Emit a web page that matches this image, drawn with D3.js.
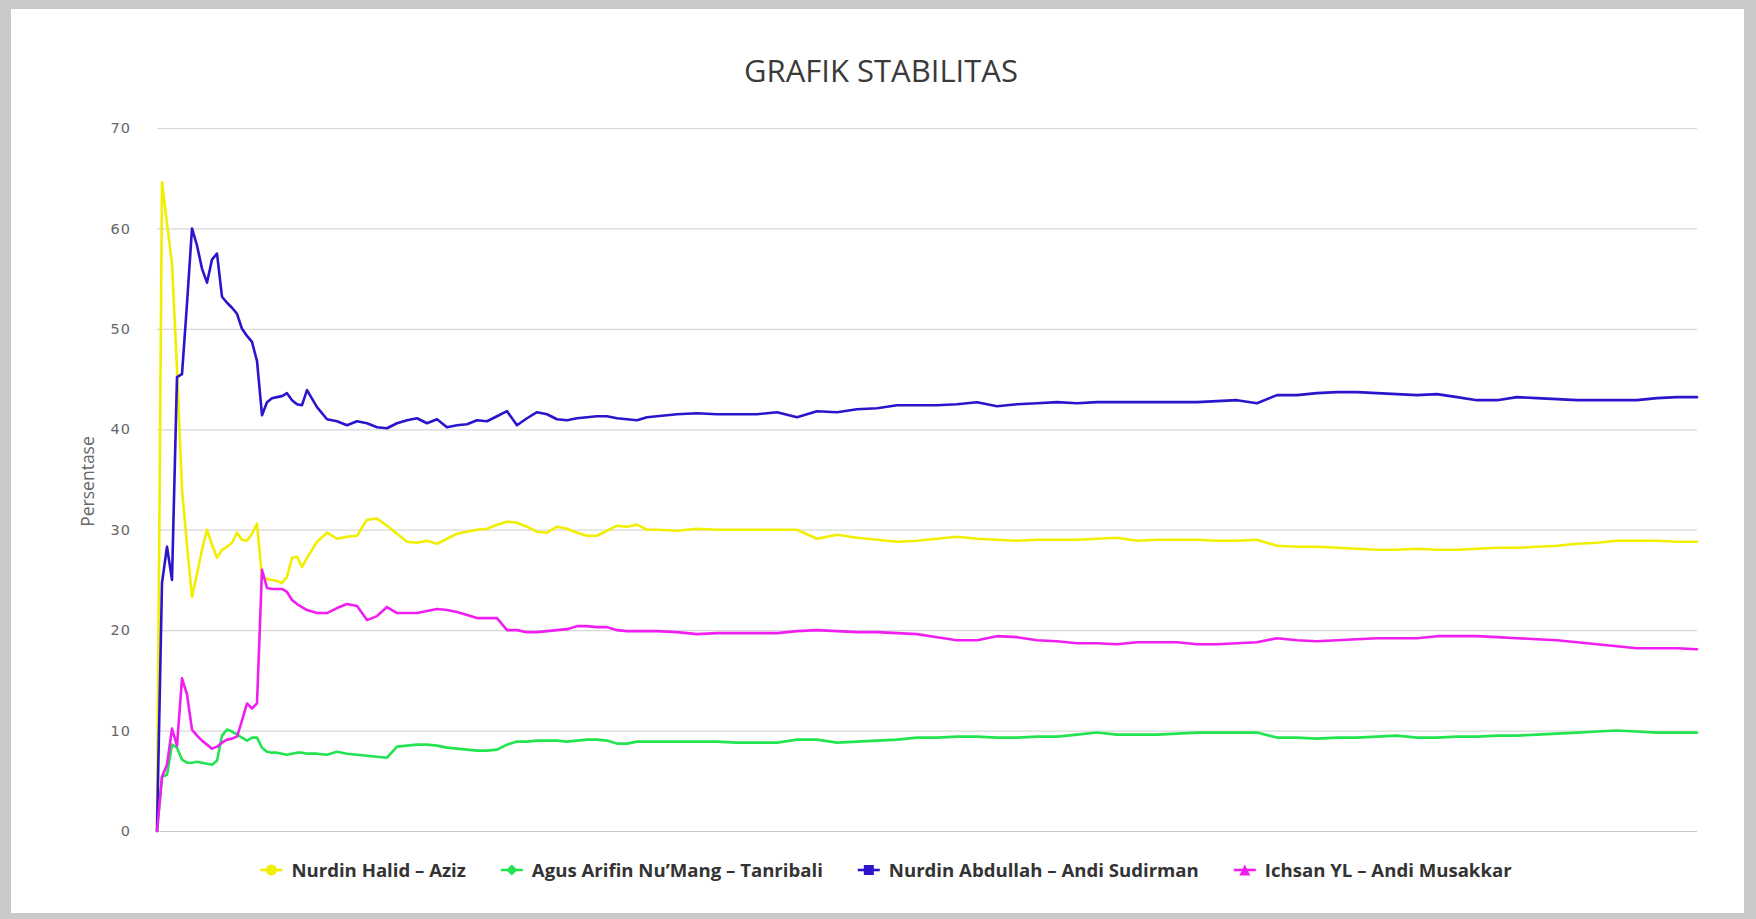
<!DOCTYPE html>
<html>
<head>
<meta charset="utf-8">
<script src="https://cdn.jsdelivr.net/npm/d3@7"></script>
<style>
  html, body { margin: 0; padding: 0; background: #c9c9c9; }
  svg { display: block; }
</style>
</head>
<body>
<div id="chart"></div>
<script>
// sample number of each data update (x categories, no labels shown)
var sampleIdx = [0,1,2,3,4,5,6,7,8,9,10,11,12,13,14,15,16,17,18,19,20,21,22,23,24,25,26,27,28,29,30,
  32,34,36,38,40,42,44,46,48,50,52,54,56,58,60,62,64,66,68,70,72,74,76,78,80,82,84,86,88,90,92,94,96,98,100,
  104,108,112,116,120,124,128,132,136,140,144,148,152,156,160,164,168,172,176,180,184,188,192,196,200,204,208,212,216,220,
  224,228,232,236,240,244,248,252,256,260,264,268,272,276,280,284,288,292,296,300,304,308];

var nurdinHalid = [0,64.6,60.5,56.5,46.0,34.0,28.5,23.3,25.6,28.0,30.0,28.5,27.2,28.0,28.3,28.7,29.7,29.0,28.9,29.6,30.6,25.3,25.1,25.0,24.9,24.7,25.3,27.2,27.3,26.3,27.2,
  28.8,29.7,29.1,29.3,29.4,31.0,31.1,30.4,29.6,28.8,28.7,28.9,28.6,29.1,29.6,29.8,30.0,30.1,30.5,30.8,30.7,30.3,29.8,29.7,30.3,30.1,29.7,29.4,29.4,29.9,30.4,30.3,30.5,30.0,30.0,
  29.9,30.1,30.0,30.0,30.0,30.0,30.0,29.1,29.5,29.2,29.0,28.8,28.9,29.1,29.3,29.1,29.0,28.9,29.0,29.0,29.0,29.1,29.2,28.9,29.0,29.0,29.0,28.9,28.9,29.0,
  28.4,28.3,28.3,28.2,28.1,28.0,28.0,28.1,28.0,28.0,28.1,28.2,28.2,28.3,28.4,28.6,28.7,28.9,28.9,28.9,28.8,28.8];

var agusArifin = [0,5.4,5.6,8.6,8.3,7.1,6.8,6.8,6.9,6.8,6.7,6.6,7.0,9.5,10.1,9.9,9.6,9.3,9.0,9.3,9.3,8.3,7.9,7.8,7.8,7.7,7.6,7.7,7.8,7.8,7.7,
  7.7,7.6,7.9,7.7,7.6,7.5,7.4,7.3,8.4,8.5,8.6,8.6,8.5,8.3,8.2,8.1,8.0,8.0,8.1,8.6,8.9,8.9,9.0,9.0,9.0,8.9,9.0,9.1,9.1,9.0,8.7,8.7,8.9,8.9,8.9,
  8.9,8.9,8.9,8.8,8.8,8.8,9.1,9.1,8.8,8.9,9.0,9.1,9.3,9.3,9.4,9.4,9.3,9.3,9.4,9.4,9.6,9.8,9.6,9.6,9.6,9.7,9.8,9.8,9.8,9.8,
  9.3,9.3,9.2,9.3,9.3,9.4,9.5,9.3,9.3,9.4,9.4,9.5,9.5,9.6,9.7,9.8,9.9,10.0,9.9,9.8,9.8,9.8];

var nurdinAbdullah = [0,24.7,28.3,25.0,45.2,45.5,52.5,60.0,58.3,56.0,54.6,56.9,57.5,53.2,52.6,52.1,51.5,50.0,49.3,48.7,46.8,41.4,42.7,43.1,43.2,43.3,43.6,42.9,42.5,42.4,43.9,
  42.2,41.0,40.8,40.4,40.8,40.6,40.2,40.1,40.6,40.9,41.1,40.6,41.0,40.2,40.4,40.5,40.9,40.8,41.3,41.8,40.4,41.1,41.7,41.5,41.0,40.9,41.1,41.2,41.3,41.3,41.1,41.0,40.9,41.2,41.3,
  41.5,41.6,41.5,41.5,41.5,41.7,41.2,41.8,41.7,42.0,42.1,42.4,42.4,42.4,42.5,42.7,42.3,42.5,42.6,42.7,42.6,42.7,42.7,42.7,42.7,42.7,42.7,42.8,42.9,42.6,
  43.4,43.4,43.6,43.7,43.7,43.6,43.5,43.4,43.5,43.2,42.9,42.9,43.2,43.1,43.0,42.9,42.9,42.9,42.9,43.1,43.2,43.2];

var ichsanYL = [0,5.4,6.6,10.2,8.5,15.2,13.6,10.1,9.5,9.0,8.6,8.2,8.4,8.8,9.1,9.2,9.4,11.0,12.7,12.2,12.7,26.0,24.2,24.1,24.1,24.1,23.8,23.0,22.6,22.3,22.0,
  21.7,21.7,22.2,22.6,22.4,21.0,21.4,22.3,21.7,21.7,21.7,21.9,22.1,22.0,21.8,21.5,21.2,21.2,21.2,20.0,20.0,19.8,19.8,19.9,20.0,20.1,20.4,20.4,20.3,20.3,20.0,19.9,19.9,19.9,19.9,
  19.8,19.6,19.7,19.7,19.7,19.7,19.9,20.0,19.9,19.8,19.8,19.7,19.6,19.3,19.0,19.0,19.4,19.3,19.0,18.9,18.7,18.7,18.6,18.8,18.8,18.8,18.6,18.6,18.7,18.8,
  19.2,19.0,18.9,19.0,19.1,19.2,19.2,19.2,19.4,19.4,19.4,19.3,19.2,19.1,19.0,18.8,18.6,18.4,18.2,18.2,18.2,18.1];

var seriesNames = ['Nurdin Halid \u2013 Aziz', 'Agus Arifin Nu\u2019Mang \u2013 Tanribali', 'Nurdin Abdullah \u2013 Andi Sudirman', 'Ichsan YL \u2013 Andi Musakkar'];
var seriesColors = ['#f2ee00', '#22e450', '#2a14cc', '#f01ef0'];
var seriesSymbols = ['circle', 'diamond', 'square', 'triangle'];
var yTicks = [0, 10, 20, 30, 40, 50, 60, 70];

(function() {
  var allSeries = [nurdinHalid, agusArifin, nurdinAbdullah, ichsanYL];

  var W = 1756, H = 919;
  var plotLeft = 157, plotRight = 1697, plotTop = 128, plotBottom = 831;

  var svg = d3.select('#chart').append('svg').attr('width', W).attr('height', H);

  // white card inside grey frame
  svg.append('rect').attr('x', 11).attr('y', 9).attr('width', 1733).attr('height', 904).attr('fill', '#fff');

  var x = d3.scaleLinear().domain([0, 308]).range([plotLeft, plotRight]);
  var y = d3.scaleLinear().domain([0, 70]).range([plotBottom, plotTop]);

  // title
  svg.append('text')
    .attr('x', 881).attr('y', 82)
    .attr('text-anchor', 'middle')
    .style('font-family', '"Open Sans", sans-serif')
    .style('font-size', '31px')
    .attr('fill', '#3a3a3a')
    .text('GRAFIK STABILITAS');

  // y axis + grid
  var yAxis = svg.append('g')
    .attr('transform', 'translate(' + plotLeft + ',0)')
    .call(d3.axisLeft(y).tickValues(yTicks).tickSize(-(plotRight - plotLeft)).tickPadding(26));
  yAxis.select('.domain').remove();
  yAxis.selectAll('.tick line').attr('stroke', '#d8d8d8').attr('stroke-width', 1.2);
  yAxis.selectAll('.tick text')
    .style('font-family', '"DejaVu Sans", Verdana, sans-serif')
    .style('font-size', '14.5px')
    .style('letter-spacing', '1px')
    .attr('fill', '#666');

  // x axis line
  svg.append('line')
    .attr('x1', plotLeft).attr('x2', plotRight)
    .attr('y1', y(0) + 0.5).attr('y2', y(0) + 0.5)
    .attr('stroke', '#c8c8c8').attr('stroke-width', 1.2);

  svg.append('text')
    .attr('transform', 'translate(94,' + ((plotTop + plotBottom) / 2 + 2) + ') rotate(-90)')
    .attr('text-anchor', 'middle')
    .style('font-family', '"Open Sans", sans-serif')
    .style('font-size', '17.5px')
    .attr('fill', '#666')
    .text('Persentase');

  // lines
  var line = d3.line()
    .x(function(d, i) { return x(sampleIdx[i]); })
    .y(function(d) { return y(d); });

  allSeries.forEach(function(s, k) {
    svg.append('path')
      .datum(s)
      .attr('d', line)
      .attr('fill', 'none')
      .attr('stroke', seriesColors[k])
      .attr('stroke-width', 2.6)
      .attr('stroke-linejoin', 'round')
      .attr('stroke-linecap', 'round');
  });

  // legend
  var legend = svg.append('g');
  var symW = 22, symPad = 9, gap = 35, legY = 877, legCenter = 886;
  var items = seriesNames.map(function(name, k) {
    var g = legend.append('g');
    var t = g.append('text')
      .attr('x', symW + symPad).attr('y', legY)
      .style('font-family', '"Open Sans", sans-serif')
      .style('font-size', '18.6px')
      .style('font-weight', 'bold')
      .attr('fill', '#333')
      .text(name);
    return { g: g, w: symW + symPad + t.node().getComputedTextLength(), k: k };
  });
  var total = d3.sum(items, function(d) { return d.w; }) + gap * (items.length - 1);
  var cx = legCenter - total / 2;
  items.forEach(function(it) {
    it.g.attr('transform', 'translate(' + cx + ',0)');
    var col = seriesColors[it.k], my = legY - 7, mx = symW / 2, r = 5.5;
    it.g.append('line').attr('x1', 0).attr('x2', symW).attr('y1', my).attr('y2', my)
      .attr('stroke', col).attr('stroke-width', 2.6);
    var sym = seriesSymbols[it.k];
    if (sym === 'circle') {
      it.g.append('circle').attr('cx', mx).attr('cy', my).attr('r', r).attr('fill', col);
    } else if (sym === 'diamond') {
      it.g.append('path').attr('d', 'M' + mx + ',' + (my - r) + 'L' + (mx + r) + ',' + my + 'L' + mx + ',' + (my + r) + 'L' + (mx - r) + ',' + my + 'Z').attr('fill', col);
    } else if (sym === 'square') {
      it.g.append('rect').attr('x', mx - r + 0.5).attr('y', my - r + 0.5).attr('width', 2 * r - 1).attr('height', 2 * r - 1).attr('fill', col);
    } else {
      it.g.append('path').attr('d', 'M' + mx + ',' + (my - r) + 'L' + (mx + r) + ',' + (my + r) + 'L' + (mx - r) + ',' + (my + r) + 'Z').attr('fill', col);
    }
    cx += it.w + gap;
  });
})();
</script>
</body>
</html>
